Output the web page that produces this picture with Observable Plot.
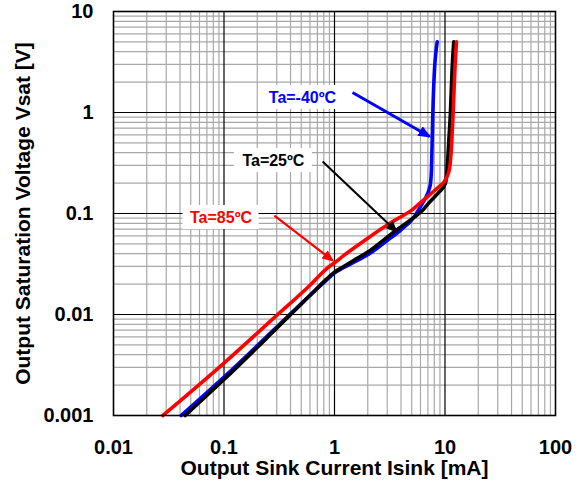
<!DOCTYPE html>
<html>
<head>
<meta charset="utf-8">
<script src="https://cdn.jsdelivr.net/npm/d3@7"></script>
<script src="https://cdn.jsdelivr.net/npm/@observablehq/plot@0.6"></script>
<style>
  html, body { margin: 0; padding: 0; background: #fff; }
</style>
</head>
<body>
<div id="chart"></div>
<script>
// ---- tick values / labels ----
const xTicks = [0.01, 0.1, 1, 10, 100];
const xTickLabels = ["0.01", "0.1", "1", "10", "100"];
const yTicks = [0.001, 0.01, 0.1, 1, 10];
const yTickLabels = ["0.001", "0.01", "0.1", "1", "10"];
const xTitle = "Output Sink Current Isink [mA]";
const yTitle = "Output Saturation Voltage Vsat [V]";

// ---- series ----
const seriesNames = ["Ta=-40ºC", "Ta=25ºC", "Ta=85ºC"];
const seriesColors = ["#0000ff", "#000000", "#ff0000"];

const blueI = [0.041, 0.1, 0.3, 0.6, 0.85, 1.0, 1.2, 1.5, 2.0, 3.0, 4.0, 5.2, 6.0, 6.7, 7.2, 7.4, 7.55, 7.76, 8.04, 8.26, 8.5];
const blueV = [0.001, 0.0024, 0.0075, 0.0155, 0.022, 0.0258, 0.029, 0.033, 0.039, 0.054, 0.069, 0.091, 0.117, 0.144, 0.175, 0.2, 0.28, 1.0, 2.7, 3.9, 5.0];

const blackI = [0.0445, 0.1, 0.3, 0.6, 0.85, 1.0, 1.2, 1.5, 2.0, 3.4, 5.2, 6.4, 7.0, 8.0, 8.7, 9.5, 10.1, 10.47, 10.8, 11.2, 11.6, 12.0];
const blackV = [0.001, 0.00227, 0.0073, 0.0154, 0.0225, 0.0262, 0.0297, 0.0345, 0.0415, 0.065, 0.091, 0.11, 0.124, 0.145, 0.16, 0.178, 0.2, 0.28, 0.5, 1.0, 2.7, 5.0];

const redI = [0.028, 0.1, 0.3, 0.6, 0.85, 1.0, 1.2, 1.5, 2.0, 3.0, 4.0, 5.0, 6.0, 7.0, 8.0, 9.0, 9.8, 10.4, 11.0, 11.5, 11.85, 12.3, 12.7];
const redV = [0.001, 0.0033, 0.0098, 0.0195, 0.0285, 0.0325, 0.038, 0.0455, 0.057, 0.077, 0.093, 0.108, 0.128, 0.148, 0.168, 0.188, 0.205, 0.23, 0.28, 0.5, 1.0, 2.7, 5.0];

// ---- annotations (data coordinates) ----
const labelX = [0.513, 0.28, 0.094];
const labelY = [1.41, 0.335, 0.0912];
const labelHalfWidth = [41, 39, 38];
const arrowX1 = [1.456, 0.78, 0.286];
const arrowY1 = [1.58, 0.327, 0.0955];
const arrowX2 = [7.24, 3.64, 0.96];
const arrowY2 = [0.578, 0.0664, 0.0343];
const arrowWidth = [3, 2, 2.2];

// ---- build tables ----
const curves = [
  {name: seriesNames[0], I: blueI, V: blueV},
  {name: seriesNames[1], I: blackI, V: blackV},
  {name: seriesNames[2], I: redI, V: redV}
];
const lineData = curves.flatMap(c => c.I.map((x, i) => ({series: c.name, x, y: c.V[i]})));
const annotations = seriesNames.map((name, i) => ({
  name, color: seriesColors[i],
  lx: labelX[i], ly: labelY[i], hw: labelHalfWidth[i],
  x1: arrowX1[i], y1: arrowY1[i], x2: arrowX2[i], y2: arrowY2[i], w: arrowWidth[i]
}));

const minorMult = [2, 3, 4, 5, 6, 7, 8, 9];
const minorX = xTicks.slice(0, -1).flatMap(d => minorMult.map(m => m * d));
const minorY = yTicks.slice(0, -1).flatMap(d => minorMult.map(m => m * d));
const majorX = xTicks.slice(1, -1);
const majorY = yTicks.slice(1, -1);

function filledHead(len, wid) {
  return (color) => {
    const ns = "http://www.w3.org/2000/svg";
    const m = document.createElementNS(ns, "marker");
    m.setAttribute("viewBox", `${-len} ${-wid / 2} ${len} ${wid}`);
    m.setAttribute("markerUnits", "userSpaceOnUse");
    m.setAttribute("markerWidth", len);
    m.setAttribute("markerHeight", wid);
    m.setAttribute("refX", -2);
    m.setAttribute("refY", 0);
    m.setAttribute("orient", "auto");
    const p = document.createElementNS(ns, "path");
    p.setAttribute("d", `M${-len},${-wid / 2}L0,0L${-len},${wid / 2}Z`);
    p.setAttribute("fill", color);
    p.setAttribute("stroke", "none");
    m.appendChild(p);
    return m;
  };
}

const font = "'Liberation Sans', Arial, Helvetica, sans-serif";

const chart = Plot.plot({
  width: 581,
  height: 489,
  marginLeft: 113,
  marginRight: 26,
  marginTop: 11,
  marginBottom: 74,
  style: {fontFamily: font, fontWeight: "bold", background: "#fff", color: "#000"},
  x: {type: "log", domain: [0.01, 100]},
  y: {type: "log", domain: [0.001, 10]},
  color: {domain: seriesNames, range: seriesColors},
  marks: [
    Plot.ruleX(minorX, {stroke: "#a8a8a8", strokeWidth: 1.2}),
    Plot.ruleY(minorY, {stroke: "#a8a8a8", strokeWidth: 1.2}),
    Plot.ruleX(majorX, {stroke: "#000", strokeWidth: 1.2}),
    Plot.ruleY(majorY, {stroke: "#000", strokeWidth: 1.2}),
    Plot.line(lineData, {x: "x", y: "y", z: "series", stroke: "series", strokeWidth: 3.6, curve: "monotone-x"}),
    ...annotations.map(a => Plot.rect([a], {
      x1: "lx", x2: "lx", y1: "ly", y2: "ly",
      insetLeft: -a.hw, insetRight: -a.hw, insetTop: -12, insetBottom: -12,
      fill: "#fff"
    })),
    Plot.text(annotations, {x: "lx", y: "ly", text: "name", fill: "color", fontSize: 16, fontWeight: "bold"}),
    ...annotations.map(a => Plot.link([a], {
      x1: "x1", y1: "y1", x2: "x2", y2: "y2",
      stroke: "color", strokeWidth: a.w, markerEnd: filledHead(a.w > 2.5 ? 13 : 12, a.w > 2.5 ? 11 : 10)
    })),
    Plot.frame({stroke: "#000", strokeWidth: 1.6}),
    Plot.axisX(xTicks, {tickSize: 0, tickPadding: 24, fontSize: 20, fontWeight: "bold",
      tickFormat: d => xTickLabels[xTicks.indexOf(d)], label: null}),
    Plot.axisY(yTicks, {tickSize: 0, tickPadding: 20, fontSize: 20, fontWeight: "bold",
      tickFormat: d => yTickLabels[yTicks.indexOf(d)], label: null}),
    Plot.text([xTitle], {frameAnchor: "bottom", dy: 59, fontSize: 21, fontWeight: "bold", fill: "#000"}),
    Plot.text([yTitle], {frameAnchor: "left", textAnchor: "middle", dx: -90, rotate: -90, fontSize: 21, fontWeight: "bold", fill: "#000"})
  ]
});
document.getElementById("chart").appendChild(chart);
</script>
</body>
</html>
